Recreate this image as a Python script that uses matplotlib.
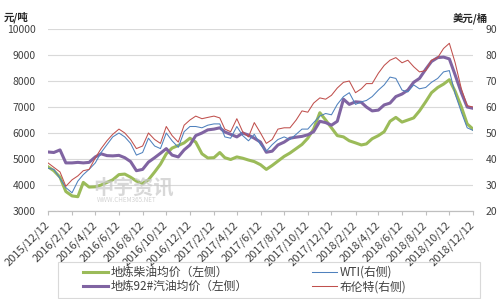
import pandas as pd
import matplotlib
matplotlib.use("Agg")
import matplotlib.pyplot as plt
from matplotlib.patches import Rectangle

plt.rcParams["font.family"] = ["Noto Sans CJK SC", "DejaVu Sans"]

# sample dates (12th and 27th of each month)
dates = [
    "2015-12-12", "2015-12-27",
    "2016-01-12", "2016-01-27", "2016-02-12", "2016-02-27", "2016-03-12", "2016-03-27",
    "2016-04-12", "2016-04-27", "2016-05-12", "2016-05-27", "2016-06-12", "2016-06-27",
    "2016-07-12", "2016-07-27", "2016-08-12", "2016-08-27", "2016-09-12", "2016-09-27",
    "2016-10-12", "2016-10-27", "2016-11-12", "2016-11-27", "2016-12-12", "2016-12-27",
    "2017-01-12", "2017-01-27", "2017-02-12", "2017-02-27", "2017-03-12", "2017-03-27",
    "2017-04-12", "2017-04-27", "2017-05-12", "2017-05-27", "2017-06-12", "2017-06-27",
    "2017-07-12", "2017-07-27", "2017-08-12", "2017-08-27", "2017-09-12", "2017-09-27",
    "2017-10-12", "2017-10-27", "2017-11-12", "2017-11-27", "2017-12-12", "2017-12-27",
    "2018-01-12", "2018-01-27", "2018-02-12", "2018-02-27", "2018-03-12", "2018-03-27",
    "2018-04-12", "2018-04-27", "2018-05-12", "2018-05-27", "2018-06-12", "2018-06-27",
    "2018-07-12", "2018-07-27", "2018-08-12", "2018-08-27", "2018-09-12", "2018-09-27",
    "2018-10-12", "2018-10-27", "2018-11-12", "2018-11-27", "2018-12-12",
]

# 地炼柴油均价, 元/吨 (left axis)
diesel = [
    4700, 4550,
    4300, 3750, 3580, 3550, 4100, 3920, 3930, 4000, 4100, 4200, 4400, 4420,
    4300, 4150, 4060, 4200, 4500, 4800, 5200, 5420, 5520, 5620, 5800, 5650,
    5200, 5040, 5050, 5250, 5050, 4980, 5080, 5030, 4960, 4900, 4780, 4600,
    4750, 4920, 5100, 5230, 5400, 5560, 5800, 6150, 6780, 6500, 6200, 5900,
    5850, 5700, 5620, 5540, 5580, 5780, 5900, 6050, 6450, 6600, 6420, 6500,
    6580, 6850, 7200, 7550, 7750, 7880, 8050, 7600, 7000, 6350, 6150,
]

# 地炼92#汽油均价, 元/吨 (left axis)
gasoline = [
    5270, 5250,
    5350, 4850, 4850, 4870, 4850, 4870, 5080, 5200, 5130, 5120, 5140, 5050,
    4900, 4550, 4600, 4880, 5050, 5220, 5400, 5150, 5080, 5350, 5540, 5900,
    6000, 6120, 6150, 6200, 6040, 5950, 5850, 6000, 5920, 5800, 5650, 5260,
    5300, 5540, 5650, 5800, 5840, 5870, 5930, 6050, 6450, 6400, 6300, 6450,
    7300, 7100, 7200, 7180, 7000, 6850, 6880, 7080, 7150, 7400, 7500, 7650,
    7950, 8100, 8450, 8750, 8900, 8920, 8850, 8230, 7550, 7000, 6950,
]

# WTI, 美元/桶 (right axis)
wti = [
    36.5, 36.0,
    32.5, 29.0, 27.0, 31.5, 34.0, 36.0, 38.5, 42.5, 45.5, 48.5, 50.0, 48.5,
    46.0, 41.5, 42.5, 48.0, 45.0, 44.0, 50.0, 47.0, 44.5, 50.5, 52.5, 52.5,
    52.0, 53.0, 53.5, 53.5, 48.5, 48.0, 52.5, 49.0, 47.0, 49.5, 45.5, 43.0,
    45.5, 47.5, 48.5, 47.5, 49.5, 51.5, 51.5, 54.0, 56.5, 57.5, 57.0, 61.0,
    64.0, 65.5, 61.0, 62.0, 62.5, 64.0, 66.5, 68.5, 71.5, 71.0, 66.5, 65.8,
    68.5, 67.0, 67.5, 69.5, 71.0, 73.5, 74.0, 65.0, 58.0, 52.0, 51.0,
]

# 布伦特, 美元/桶 (right axis)
brent = [
    38.5, 36.8,
    35.0, 29.5, 32.0, 33.5, 35.5, 36.0, 40.4, 44.0, 47.0, 49.5, 51.5, 50.0,
    47.5, 44.0, 45.0, 50.0, 47.5, 46.0, 52.5, 49.0, 46.5, 53.0, 55.0, 56.5,
    55.5, 56.0, 56.5, 55.8, 51.5, 50.5, 55.5, 50.5, 48.5, 54.0, 50.0, 46.0,
    47.5, 51.5, 52.0, 52.0, 55.0, 58.5, 58.0, 61.5, 63.5, 63.0, 64.5, 67.3,
    69.5, 70.0, 65.5, 67.0, 69.0, 69.0, 73.0, 76.0, 78.0, 79.0, 77.0, 78.0,
    75.5, 73.5, 74.0, 78.0, 79.0, 82.5, 84.5, 77.0, 67.0, 60.5, 60.0,
]

tick_labels = [
    "2015/12/12", "2016/2/12", "2016/4/12", "2016/6/12", "2016/8/12",
    "2016/10/12", "2016/12/12", "2017/2/12", "2017/4/12", "2017/6/12",
    "2017/8/12", "2017/10/12", "2017/12/12", "2018/2/12", "2018/4/12",
    "2018/6/12", "2018/8/12", "2018/10/12", "2018/12/12",
]

W, H = 499, 299


def main():
    x = pd.to_datetime(dates)
    ticks = pd.to_datetime(tick_labels, format="%Y/%m/%d")

    fig = plt.figure(figsize=(W / 100, H / 100), dpi=100)
    ax = fig.add_axes([48 / W, 1 - 211 / H, 425 / W, 182 / H])
    ax2 = ax.twinx()

    l1, = ax.plot(x, diesel, color="#9bbb59", lw=2.2, label="地炼柴油均价（左侧）")
    l2, = ax.plot(x, gasoline, color="#8064a2", lw=2.2, label="地炼92#汽油均价（左侧）")
    l3, = ax2.plot(x, wti, color="#4f81bd", lw=0.75, label="WTI(右侧)")
    l4, = ax2.plot(x, brent, color="#c0504d", lw=0.75, label="布伦特(右侧)")

    ax.set_ylim(3000, 10000)
    ax.set_yticks(range(3000, 10001, 1000))
    ax2.set_ylim(20, 90)
    ax2.set_yticks(range(20, 91, 10))
    ax.set_xlim(ticks[0], ticks[-1])
    ax.set_xticks(ticks)
    ax.set_xticklabels(tick_labels, rotation=45, ha="right", va="center",
                       rotation_mode="anchor", fontsize=8, color="#404040")

    ax.grid(axis="y", color="#d9d9d9", lw=0.8)
    ax.set_axisbelow(True)
    for a in (ax, ax2):
        for side in ("top", "left", "right"):
            a.spines[side].set_visible(False)
        a.spines["bottom"].set_color("#bfbfbf")
    ax.tick_params(axis="x", length=3, color="#bfbfbf", pad=6)
    ax.tick_params(axis="y", length=0, labelsize=7.5, labelcolor="#404040", pad=9)
    ax2.tick_params(axis="y", length=0, labelsize=7.5, labelcolor="#404040", pad=9)

    fig.text(4 / W, 1 - 17 / H, "元/吨", fontsize=7.5, color="#262626",
             fontweight="bold", va="center")
    fig.text(488 / W, 1 - 18 / H, "美元/桶", fontsize=7.5, color="#262626",
             fontweight="bold", va="center", ha="right")

    # watermark
    fig.text(93 / W, 1 - 187 / H, "中宇资讯", fontsize=14.5, color="#c8c8c8",
             alpha=0.7, fontweight="bold", va="center", zorder=10)
    fig.text(97 / W, 1 - 200 / H, "WWW.CHEM365.NET", fontsize=4.5,
             color="#c8c8c8", alpha=0.8, va="center", zorder=10)

    # legend box
    fig.patches.append(Rectangle((58 / W, 1 - 298 / H), 422 / W, 36 / H,
                                 transform=fig.transFigure, fill=False,
                                 edgecolor="#d9d9d9", lw=0.8))
    leg = fig.legend(handles=[l1, l2, l3, l4], ncol=2, loc="upper left",
                     bbox_to_anchor=(83 / W, 1 - 266 / H),
                     fontsize=8.5, frameon=False, borderpad=0, borderaxespad=0,
                     handlelength=2.1, handletextpad=0.2, columnspacing=5.5,
                     labelspacing=0.1)
    for t in leg.get_texts():
        t.set_color("#404040")

    fig.savefig("out.png", dpi=100)


if __name__ == "__main__":
    main()
